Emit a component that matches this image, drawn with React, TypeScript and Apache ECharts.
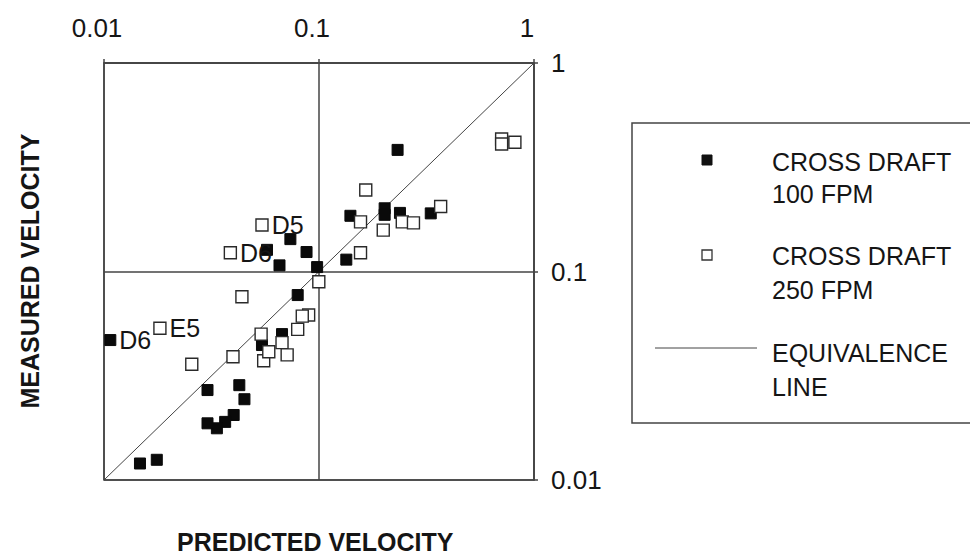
import React, { useEffect, useRef } from "react";
import * as echarts from "echarts";

// Cross draft 100 FPM (filled squares): [predicted, measured]
const crossDraft100: [number, number][] = [
  [0.232, 0.383],
  [0.202, 0.201],
  [0.202, 0.187],
  [0.238, 0.191],
  [0.331, 0.19],
  [0.14, 0.185],
  [0.134, 0.114],
  [0.0736, 0.143],
  [0.0875, 0.124],
  [0.0573, 0.127],
  [0.0655, 0.107],
  [0.098, 0.105],
  [0.0796, 0.0771],
  [0.0107, 0.0469],
  [0.0673, 0.0501],
  [0.0543, 0.0444],
  [0.0303, 0.027],
  [0.0426, 0.0285],
  [0.045, 0.0244],
  [0.0401, 0.0205],
  [0.0366, 0.019],
  [0.0335, 0.0177],
  [0.0303, 0.0187],
  [0.0147, 0.012],
  [0.0176, 0.0125],
];
const crossDraft100Labels: string[] = crossDraft100.map((_, i) => (i === 13 ? "D6" : ""));

// Cross draft 250 FPM (open squares)
const crossDraft250: [number, number][] = [
  [0.707, 0.432],
  [0.707, 0.409],
  [0.815, 0.417],
  [0.165, 0.246],
  [0.368, 0.205],
  [0.156, 0.173],
  [0.199, 0.158],
  [0.244, 0.173],
  [0.275, 0.171],
  [0.156, 0.123],
  [0.0543, 0.167],
  [0.0387, 0.123],
  [0.0998, 0.0893],
  [0.0438, 0.0757],
  [0.0895, 0.0619],
  [0.0836, 0.0611],
  [0.0796, 0.0528],
  [0.0538, 0.0501],
  [0.0673, 0.0456],
  [0.0711, 0.0398],
  [0.0553, 0.0373],
  [0.0584, 0.0412],
  [0.0398, 0.039],
  [0.0256, 0.0359],
  [0.0182, 0.0534],
];
const crossDraft250Labels: string[] = crossDraft250.map((_, i) =>
  i === 10 ? "D5" : i === 11 ? "D6" : i === 24 ? "E5" : ""
);

const equivalenceLine: [number, number][] = [
  [0.01, 0.01],
  [1, 1],
];

const axisMin = 0.01;
const axisMax = 1;
const xAxisTitle = "PREDICTED VELOCITY";
const yAxisTitle = "MEASURED VELOCITY";
const legendLines: [string, string][] = [
  ["CROSS DRAFT", "100 FPM"],
  ["CROSS DRAFT", "250 FPM"],
  ["EQUIVALENCE", "LINE"],
];

const FONT = "'Liberation Sans', Arial, Helvetica, sans-serif";
const INK = "#151515";
const LINE = "#444444";

export default function App() {
  const ref = useRef<HTMLDivElement>(null);
  useEffect(() => {
    if (!ref.current) return;
    const chart = echarts.init(ref.current, undefined, { renderer: "svg" });

    const labelStyle = {
      show: true,
      position: "right" as const,
      distance: 3,
      fontSize: 25,
      fontFamily: FONT,
      color: INK,
      opacity: 1,
    };
    const mkData = (pts: [number, number][], labels: string[]) =>
      pts.map((p, i) =>
        labels[i]
          ? { value: p, label: { ...labelStyle, formatter: labels[i] } }
          : { value: p }
      );

    const legendTextX = 772;
    const legendRows = [
      [162, 194],
      [256, 290],
      [353, 387],
    ];
    const legendGraphics: any[] = [
      {
        type: "rect",
        shape: { x: 632, y: 123, width: 360, height: 300 },
        style: { fill: "none", stroke: LINE, lineWidth: 1.5 },
      },
      {
        type: "rect",
        shape: { x: 702, y: 155, width: 10, height: 10 },
        style: { fill: "#111", stroke: "#111", lineWidth: 1 },
      },
      {
        type: "rect",
        shape: { x: 702, y: 250, width: 10, height: 10 },
        style: { fill: "#fff", stroke: "#333", lineWidth: 1.3 },
      },
      {
        type: "line",
        shape: { x1: 655, y1: 348, x2: 757, y2: 348 },
        style: { stroke: LINE, lineWidth: 1 },
      },
    ];
    legendLines.forEach((pair, r) => {
      pair.forEach((t, k) => {
        legendGraphics.push({
          type: "text",
          x: legendTextX,
          y: legendRows[r][k],
          style: {
            text: t,
            fontSize: 25,
            fontFamily: FONT,
            fill: INK,
            verticalAlign: "middle",
            align: "left",
          },
        });
      });
    });

    chart.setOption({
      animation: false,
      backgroundColor: "#ffffff",
      grid: {
        left: 104,
        top: 63,
        right: 436,
        bottom: 77,
        show: true,
        borderColor: LINE,
        borderWidth: 1.5,
        backgroundColor: "transparent",
      },
      xAxis: {
        type: "log",
        logBase: 10,
        position: "top",
        min: axisMin,
        max: axisMax,
        axisLine: { show: true, lineStyle: { color: LINE, width: 1.5 } },
        axisTick: { show: true, length: 4, lineStyle: { color: LINE, width: 1.5 } },
        minorTick: { show: false },
        splitLine: { show: true, lineStyle: { color: LINE, width: 1.5 } },
        axisLabel: {
          margin: 22,
          fontSize: 26,
          fontFamily: FONT,
          color: INK,
          padding: [0, 14, 0, 0],
          formatter: (v: number) => String(v),
        },
      },
      yAxis: {
        type: "log",
        logBase: 10,
        position: "right",
        min: axisMin,
        max: axisMax,
        axisLine: { show: true, lineStyle: { color: LINE, width: 1.5 } },
        axisTick: { show: true, length: 4, lineStyle: { color: LINE, width: 1.5 } },
        splitLine: { show: true, lineStyle: { color: LINE, width: 1.5 } },
        axisLabel: {
          margin: 17,
          fontSize: 26,
          fontFamily: FONT,
          color: INK,
          padding: [6, 0, 0, 0],
          formatter: (v: number) => String(v),
        },
      },
      series: [
        {
          name: "EQUIVALENCE LINE",
          type: "line",
          data: equivalenceLine,
          symbol: "none",
          lineStyle: { color: LINE, width: 1 },
          z: 1,
        },
        {
          name: "CROSS DRAFT 100 FPM",
          type: "scatter",
          symbol: "rect",
          symbolSize: 11,
          itemStyle: { color: "#0a0a0a", borderColor: "#0a0a0a", borderWidth: 1, opacity: 1 },
          emphasis: { disabled: true },
          data: mkData(crossDraft100, crossDraft100Labels),
          z: 2,
        },
        {
          name: "CROSS DRAFT 250 FPM",
          type: "scatter",
          symbol: "rect",
          symbolSize: 12,
          itemStyle: { color: "#fff", borderColor: "#2a2a2a", borderWidth: 1.4, opacity: 1 },
          emphasis: { disabled: true },
          data: mkData(crossDraft250, crossDraft250Labels),
          z: 3,
        },
      ],
      graphic: [
        ...legendGraphics,
        {
          type: "text",
          x: 177,
          y: 542,
          style: {
            text: xAxisTitle,
            fontSize: 25,
            fontWeight: "bold",
            fontFamily: FONT,
            fill: INK,
            verticalAlign: "middle",
            align: "left",
          },
        },
        {
          type: "text",
          x: 30,
          y: 271,
          rotation: Math.PI / 2,
          style: {
            text: yAxisTitle,
            fontSize: 25,
            fontWeight: "bold",
            fontFamily: FONT,
            fill: INK,
            verticalAlign: "middle",
            align: "center",
          },
        },
      ],
    });
    return () => chart.dispose();
  }, []);

  return (
    <div
      ref={ref}
      style={{ position: "fixed", left: 0, top: 0, width: 970, height: 557, background: "#fff" }}
    />
  );
}
